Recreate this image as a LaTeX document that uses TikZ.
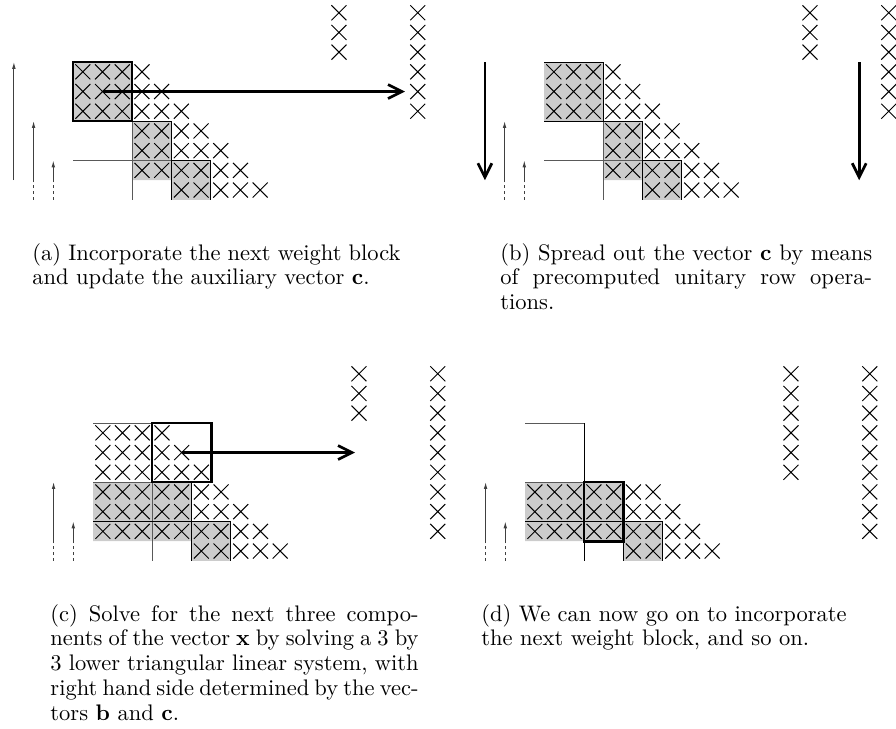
\documentclass[tikz,border=0pt]{standalone}
\usetikzlibrary{arrows.meta}
\tikzset{
  px/.style={x=0.44444pt,y=-0.44444pt},
  cellgrid/.style={x=8.7556pt,y=-8.7556pt},
  crossline/.style={line width=0.45pt, black},
  blockfill/.style={fill=black!20, draw=none},
  outline/.style={line width=0.4pt, black},
  partline/.style={line width=0.4pt, black!65},
  heavybox/.style={line width=1.2pt, black},
  bigarrow/.style={line width=1.2pt, -{Straight Barb[length=6.2pt,width=6.2pt]}},
  thinarrow/.style={line width=0.4pt, black!75, -{Latex[length=3pt,width=1.6pt]}},
  dashpart/.style={line width=0.4pt, black!75, dash pattern=on 1.3pt off 1.3pt},
  captext/.style={inner sep=0pt, anchor=base west, align=justify, font=\fontsize{10}{11.1}\selectfont}
}
\newcommand{\xx}[2]{\draw[crossline] (#1+0.12,#2+0.12) -- (#1+0.88,#2+0.88) (#1+0.12,#2+0.88) -- (#1+0.88,#2+0.12);}
\newcommand{\xrow}[3]{\foreach \cc in {#2,...,#3} {\xx{\cc}{#1}}}
\newcommand{\xcol}[3]{\foreach \rr in {#2,...,#3} {\xx{#1}{\rr}}}
\begin{document}
\begin{tikzpicture}[px]
\useasboundingbox (0,0) rectangle (896,728);

% ---------- panel (a)
\begin{scope}[shift={(73,62)}]\begin{scope}[cellgrid]
  \fill[blockfill] (0,0) rectangle (3,3) (3,3) rectangle (5,6) (5,5) rectangle (7,7);
  \xrow{0}{0}{3}\xrow{1}{0}{4}\xrow{2}{0}{5}\xrow{3}{3}{6}\xrow{4}{3}{7}\xrow{5}{3}{8}\xrow{6}{5}{9}
  \draw[partline] (0,5) -- (5,5) (3,3) -- (3,7);
  \draw[outline] (3,3) -- (5,3) -- (5,7) (5,5) -- (7,5) -- (7,7);
  \draw[heavybox] (0,0) rectangle (3,3);
  \xcol{13}{-3}{-1}\xcol{17}{-3}{2}
  \coordinate (as) at (1.5,1.5); \coordinate (ae) at (16.85,1.5);
  \draw[bigarrow] (as) -- (ae);
  \coordinate (a1b) at (-3,6); \coordinate (a1t) at (-3,0);
  \coordinate (a2d) at (-2,7); \coordinate (a2b) at (-2,6); \coordinate (a2t) at (-2,3);
  \coordinate (a3d) at (-1,7); \coordinate (a3b) at (-1,6); \coordinate (a3t) at (-1,5);
  \draw[thinarrow] (a1b) -- (a1t);
  \draw[thinarrow] (a2b) -- (a2t);
  \draw[thinarrow] (a3b) -- (a3t);
  \draw[dashpart] (a2d) -- (a2b) (a3d) -- (a3b);
\end{scope}\end{scope}

% ---------- panel (b)
\begin{scope}[shift={(544,62)}]\begin{scope}[cellgrid]
  \fill[blockfill] (0,0) rectangle (3,3) (3,3) rectangle (5,6) (5,5) rectangle (7,7);
  \xrow{0}{0}{3}\xrow{1}{0}{4}\xrow{2}{0}{5}\xrow{3}{3}{6}\xrow{4}{3}{7}\xrow{5}{3}{8}\xrow{6}{5}{9}
  \draw[partline] (0,5) -- (5,5) (3,3) -- (3,7);
  \draw[outline] (0,0) -- (3,0) -- (3,3) -- (0,3) (3,3) -- (5,3) -- (5,7) (5,5) -- (7,5) -- (7,7);
  \xcol{13}{-3}{-1}\xcol{17}{-3}{2}
  \coordinate (b1t) at (-3,0); \coordinate (b1b) at (-3,6);
  \coordinate (brt) at (16,0); \coordinate (brb) at (16,6);
  \draw[bigarrow] (b1t) -- (b1b);
  \draw[bigarrow] (brt) -- (brb);
  \coordinate (b2d) at (-2,7); \coordinate (b2b) at (-2,6); \coordinate (b2t) at (-2,3);
  \coordinate (b3d) at (-1,7); \coordinate (b3b) at (-1,6); \coordinate (b3t) at (-1,5);
  \draw[thinarrow] (b2b) -- (b2t);
  \draw[thinarrow] (b3b) -- (b3t);
  \draw[dashpart] (b2d) -- (b2b) (b3d) -- (b3b);
\end{scope}\end{scope}

% ---------- panel (c)
\begin{scope}[shift={(93,423)}]\begin{scope}[cellgrid]
  \fill[blockfill] (0,3) rectangle (5,6) (5,5) rectangle (7,7);
  \xrow{0}{0}{3}\xrow{1}{0}{4}\xrow{2}{0}{5}\xrow{3}{0}{6}\xrow{4}{0}{7}\xrow{5}{0}{8}\xrow{6}{5}{9}
  \draw[partline] (0,0) -- (3,0) (0,3) -- (3,3) (3,3) -- (3,7);
  \draw[outline] (0,5) -- (7,5) -- (7,7) (5,3) -- (5,7);
  \draw[heavybox] (3,0) rectangle (6,3);
  \xcol{13}{-3}{-1}\xcol{17}{-3}{5}
  \coordinate (cs) at (4.5,1.5); \coordinate (ce) at (13.3,1.5);
  \draw[bigarrow] (cs) -- (ce);
  \coordinate (c2d) at (-2,7); \coordinate (c2b) at (-2,6); \coordinate (c2t) at (-2,3);
  \coordinate (c3d) at (-1,7); \coordinate (c3b) at (-1,6); \coordinate (c3t) at (-1,5);
  \draw[thinarrow] (c2b) -- (c2t);
  \draw[thinarrow] (c3b) -- (c3t);
  \draw[dashpart] (c2d) -- (c2b) (c3d) -- (c3b);
\end{scope}\end{scope}

% ---------- panel (d)
\begin{scope}[shift={(525,423)}]\begin{scope}[cellgrid]
  \fill[blockfill] (0,3) rectangle (5,6) (5,5) rectangle (7,7);
  \xrow{3}{0}{6}\xrow{4}{0}{7}\xrow{5}{0}{8}\xrow{6}{5}{9}
  \draw[partline] (0,0) -- (3,0) (0,3) -- (3,3);
  \draw[outline] (3,0) -- (3,7) (0,5) -- (7,5) -- (7,7) (5,5) -- (5,7);
  \draw[heavybox] (3,3) rectangle (5,6);
  \xcol{13}{-3}{2}\xcol{17}{-3}{5}
  \coordinate (d2d) at (-2,7); \coordinate (d2b) at (-2,6); \coordinate (d2t) at (-2,3);
  \coordinate (d3d) at (-1,7); \coordinate (d3b) at (-1,6); \coordinate (d3t) at (-1,5);
  \draw[thinarrow] (d2b) -- (d2t);
  \draw[thinarrow] (d3b) -- (d3t);
  \draw[dashpart] (d2d) -- (d2b) (d3d) -- (d3b);
\end{scope}\end{scope}

% ---------- captions
\node[captext, text width=163.6pt] (capa) at (32,260)
  {(a) Incorporate the next weight block\linebreak and update the auxiliary vector \textbf{c}.};
\node[captext, text width=165.2pt] (capb) at (500,260)
  {(b) Spread out the vector \textbf{c} by means\linebreak of precomputed unitary row opera-\linebreak tions.};
\node[captext, text width=163.6pt] (capc) at (50,621)
  {(c) Solve for the next three compo-\linebreak nents of the vector \textbf{x} by solving a 3 by\linebreak 3 lower triangular linear system, with\linebreak right hand side determined by the vec-\linebreak tors \textbf{b} and \textbf{c}.};
\node[captext, text width=170pt, align=left] (capd) at (481,621)
  {(d) We can now go on to incorporate\\ the next weight block, and so on.};
\end{tikzpicture}
\end{document}
